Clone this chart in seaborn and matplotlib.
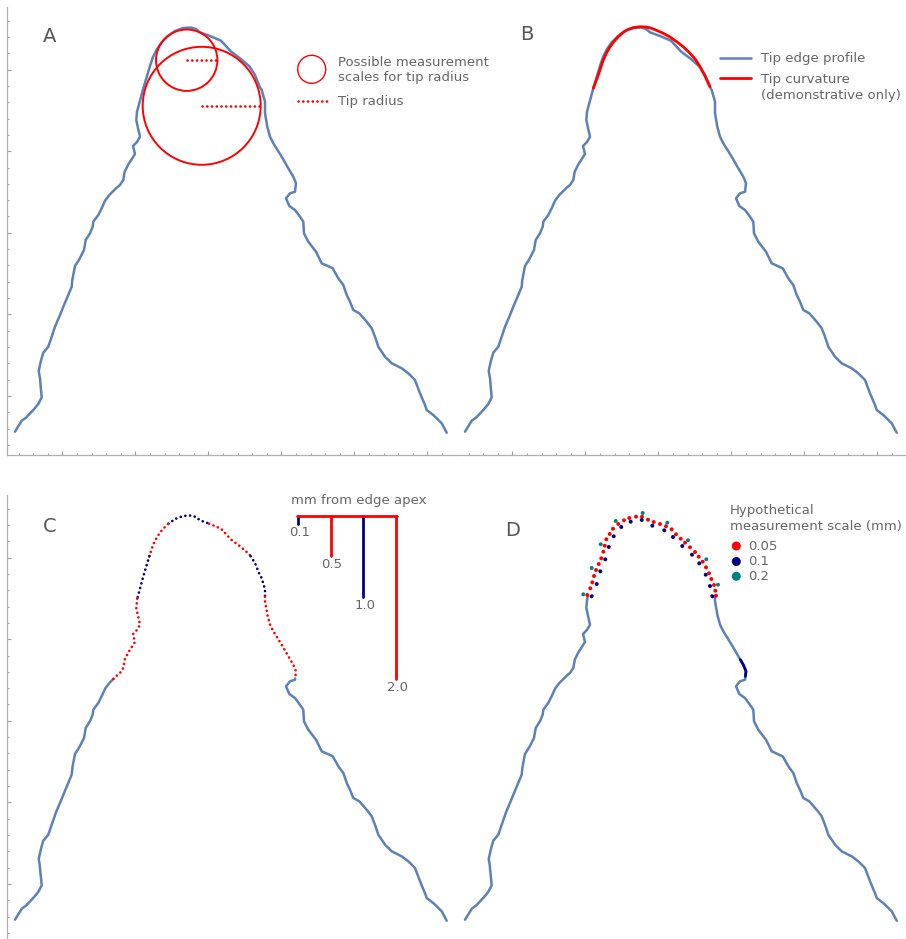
import numpy as np
import matplotlib
matplotlib.use("Agg")
import matplotlib.pyplot as plt
from matplotlib.patches import Circle
from matplotlib.ticker import FixedLocator
import seaborn as sns

# ---------------- data (image units; 81.6 units = 1 mm) ----------------
PX_PER_MM = 81.6

profile_x = [8, 14.7, 19, 26.3, 31.3, 34.7, 33.7, 33, 31.7, 33.7, 36.3, 41.3, 44.7, 48, 52.3, 57, 61.3, 64.7,
             65.3, 68, 72.3, 77, 78.7, 83, 85.7, 86.3, 91.3, 94.7, 98, 102.3, 109, 113, 116.3, 117.7, 121, 128,
             126, 130, 133, 131, 129.3, 130, 132.7, 136.3, 140, 143, 146, 150, 155, 161, 168, 176, 184, 189, 193,
             203, 214, 218, 224, 234, 242.5, 248, 252.7, 254.7, 258, 258, 260.3, 263, 266.3, 274.7, 281.3, 286.3,
             289, 288, 283, 279, 282.3, 288, 293, 296.3, 297, 301.3, 309, 314.7, 325.7, 331.3, 336.3, 339.7, 343,
             346.3, 352.3, 359.7, 364.7, 368, 371.3, 378, 384.7, 394.7, 401.3, 408, 413, 418, 419.7, 426.3, 434.7,
             439.7]
profile_y = [23.3, 34.3, 37.3, 45, 51, 57.7, 68.3, 76.7, 84, 93.3, 102.3, 108.3, 118.3, 128.3, 138.3, 150, 160,
             168.3, 175, 189, 195.7, 205, 215, 221.7, 228.3, 233.3, 240, 246.7, 254.3, 260, 266.7, 270, 275, 283.3,
             290, 301, 309, 313, 318.3, 327, 335, 343.3, 353.3, 366.7, 379, 389, 398, 406, 413, 419, 424, 427,
             427.5, 426, 422.7, 419, 414.3, 410, 403.5, 396, 388.5, 380, 368.3, 365, 353.3, 341.7, 328.3, 318.3,
             311.7, 298.3, 286.7, 278.3, 271.7, 263.3, 261.7, 256.7, 249, 245, 238.3, 233.3, 221.7, 213.3, 203.3,
             191.7, 186.7, 176.7, 170, 160, 153.3, 145, 141.7, 133.3, 126.7, 118.3, 108.3, 98.3, 91.7, 86.7, 81.7,
             75, 61.7, 50, 45, 40, 31.7, 22.3]

curve_x = [136.3, 138.8, 141.3, 143.7, 146.3, 149.5, 153, 157, 161.3, 165.5, 169.7, 176, 183, 189, 194.7, 200,
           206.3, 213, 219.7, 226.5, 233, 238.5, 243, 248, 253]
curve_y = [366.7, 373.5, 380, 387.5, 395, 402, 408.3, 413.5, 418.3, 422, 425, 427.3, 428.3, 428, 426.7, 424.5,
           421.7, 418, 413.3, 408, 401.7, 395.5, 388.3, 379, 368.3]

circle_cx = [179.7, 194.7]
circle_cy = [394.8, 349.2]
circle_r = [30.7, 59.0]

scale_mm = [0.1, 0.5, 1.0, 2.0]
scale_labels = ["0.1", "0.5", "1.0", "2.0"]
band_limits_mm = [0.0, 0.1, 0.5, 1.0, 2.0]
navy_window_mm = [1.77, 1.97]

d005_x = [130.3, 133.3, 135.3, 137, 139, 141.7, 144.3, 146.3, 147.7, 149.3, 152.7, 156, 161.3, 167, 172.3, 179,
          185, 191, 196.7, 203, 209, 214.7, 219, 223.7, 228, 233, 238, 241.7, 245.7, 249, 252, 254.3, 257,
          258.3, 259]
d005_y = [348, 354.7, 360.7, 367, 373, 379, 384.7, 391.3, 397.3, 403.7, 409, 414.3, 419, 422.7, 425, 426.3,
          426.3, 423.3, 421, 419, 416.7, 413.7, 408.7, 404.3, 400.3, 395.7, 391, 386.3, 381.3, 375.7, 369.7, 364,
          358, 352.3, 347.3]
d01_x = [134.7, 139.7, 143.3, 148.3, 151.7, 156.7, 164.3, 173.7, 184.7, 195.3, 207.3, 216, 225.3, 235, 242.3,
         248.7, 253, 255.3]
d01_y = [346.7, 359, 371.7, 383.7, 396, 406.7, 416, 421.3, 423, 417.3, 412.7, 406, 397, 388.3, 379.7, 368.3,
         357, 346.7]
d02_x = [126.3, 134.7, 143.7, 158.7, 185.7, 210.3, 231, 249.3, 261]
d02_y = [348.7, 375, 398.7, 422, 430, 420.3, 402.7, 383.7, 358.3]
d_labels = ["0.05", "0.1", "0.2"]

# ---------------- style ----------------
BLUE = "#5E81B5"
RED = "#FF0000"
NAVY = "#000080"
TEAL = "#008080"
TXT = "#666666"
LET = "#555555"
FS = 9.5

sns.set_style("white")
plt.rcParams["font.family"] = ["DejaVu Sans"]

W, H = 906, 939
fig = plt.figure(figsize=(W / 100, H / 100), dpi=100)
fig.patch.set_facecolor("white")


def make_ax(left, top, w, h=448):
    ax = fig.add_axes([left / W, 1 - (top + h) / H, w / W, h / H])
    ax.set_xlim(0, w)
    ax.set_ylim(0, h)
    ax.set_facecolor("none")
    for s in ax.spines.values():
        s.set_visible(False)
    ax.xaxis.set_major_locator(FixedLocator(55.3 + 73 * np.arange(0, 6)))
    ax.xaxis.set_minor_locator(FixedLocator(55.3 + 14.6 * np.arange(-3, 27)))
    ax.yaxis.set_major_locator(FixedLocator(59 + 81.6 * np.arange(0, 5)))
    ax.yaxis.set_minor_locator(FixedLocator(59 + 16.32 * np.arange(-3, 24)))
    ax.tick_params(which="both", direction="in", color="#a0a0a0", labelleft=False, labelbottom=False,
                   left=False, bottom=False, top=False, right=False)
    ax.tick_params(which="major", length=2.6, width=0.8)
    ax.tick_params(which="minor", length=1.5, width=0.8)
    return ax


def show_spine(ax, side):
    ax.spines[side].set_visible(True)
    ax.spines[side].set_color("#b0b0b0")
    ax.spines[side].set_linewidth(0.9)
    ax.tick_params(which="both", **{side: True})


def line(ax, x, y, color=BLUE, lw=1.8, ls="-", cap="butt"):
    sns.lineplot(x=np.asarray(x), y=np.asarray(y), sort=False, estimator=None, ax=ax, color=color,
                 linewidth=lw, linestyle=ls, legend=False, dash_capstyle=cap)


axA = make_ax(7, 7, 450)
axB = make_ax(457, 7, 449)
axC = make_ax(7, 495, 450)
axD = make_ax(457, 495, 449)
show_spine(axA, "left")
show_spine(axA, "bottom")
show_spine(axB, "bottom")
show_spine(axC, "left")

# dense profile for segmentation by depth below apex
px_arr = np.asarray(profile_x, float)
py_arr = np.asarray(profile_y, float)
n_sub = 20
dx, dy = [px_arr[0]], [py_arr[0]]
for i in range(len(px_arr) - 1):
    t = np.linspace(0, 1, n_sub + 1)[1:]
    dx.extend(px_arr[i] + (px_arr[i + 1] - px_arr[i]) * t)
    dy.extend(py_arr[i] + (py_arr[i + 1] - py_arr[i]) * t)
dx, dy = np.array(dx), np.array(dy)
apex_y = py_arr.max()
apex_x = px_arr[np.argmax(py_arr)]
depth_mm = (apex_y - dy) / PX_PER_MM


def runs(mask):
    idx = np.flatnonzero(mask)
    if len(idx) == 0:
        return []
    br = np.where(np.diff(idx) > 1)[0]
    starts = np.r_[idx[0], idx[br + 1]]
    ends = np.r_[idx[br], idx[-1]]
    out = []
    for s, e in zip(starts, ends):
        s2, e2 = max(s - 1, 0), min(e + 1, len(dx) - 1)
        out.append((s2, e2))
    return out


def draw_mask(ax, mask, color, lw=1.8, ls="-", cap="butt"):
    for s, e in runs(mask):
        line(ax, dx[s:e + 1], dy[s:e + 1], color=color, lw=lw, ls=ls, cap=cap)


DOT = (0, (0.05, 1.75))

# ---------------- Panel A ----------------
line(axA, profile_x, profile_y)
for cx, cy, r in zip(circle_cx, circle_cy, circle_r):
    axA.add_patch(Circle((cx, cy), r, fill=False, edgecolor=RED, linewidth=1.4, zorder=3))
    line(axA, [cx, cx + r], [cy, cy], color=RED, lw=1.9, ls=DOT, cap="round")
axA.add_patch(Circle((304.7, 385.7), 14, fill=False, edgecolor=RED, linewidth=1.0, zorder=3))
axA.text(331.3, 385.0, "Possible measurement\nscales for tip radius", color=TXT, fontsize=FS,
         va="center", ha="left", linespacing=1.3)
line(axA, [290.7, 321.3], [354, 354], color=RED, lw=1.9, ls=DOT, cap="round")
axA.text(331.3, 353.5, "Tip radius", color=TXT, fontsize=FS, va="center", ha="left")
axA.text(43, 418.3, "A", color=LET, fontsize=14, va="center", ha="center")

# ---------------- Panel B ----------------
line(axB, profile_x, profile_y)
line(axB, curve_x, curve_y, color=RED, lw=2.0)
line(axB, [262.7, 293.7], [397.3, 397.3], color=BLUE, lw=1.8)
axB.text(304.3, 396.5, "Tip edge profile", color=TXT, fontsize=FS, va="center", ha="left")
line(axB, [262.7, 293.7], [376.7, 376.7], color=RED, lw=2.0)
axB.text(304.3, 367.0, "Tip curvature\n(demonstrative only)", color=TXT, fontsize=FS, va="center",
         ha="left", linespacing=1.3)
axB.text(70, 420.7, "B", color=LET, fontsize=14, va="center", ha="center")

# ---------------- Panel C ----------------
band_colors = [NAVY, RED, NAVY, RED]
draw_mask(axC, depth_mm >= band_limits_mm[-1], BLUE)
for lo, hi, col in zip(band_limits_mm[:-1], band_limits_mm[1:], band_colors):
    draw_mask(axC, (depth_mm >= lo) & (depth_mm <= hi), col, lw=1.9, ls=DOT, cap="round")

bar_x0 = 290.7
bar_step = 32.8
bar_xs = [bar_x0 + i * bar_step for i in range(len(scale_mm))]
for i, (mm, lab, col) in enumerate(zip(scale_mm, scale_labels, band_colors)):
    bx = bar_xs[i]
    line(axC, [bx, bx], [apex_y, apex_y - mm * PX_PER_MM], color=col, lw=2.0)
    axC.text(bx + 1.5, apex_y - mm * PX_PER_MM - 8.5, lab, color=TXT, fontsize=FS, va="center", ha="center")
line(axC, [bar_xs[0] - 0.7, bar_xs[-1] + 0.7], [apex_y, apex_y], color=RED, lw=2.0)
axC.text(351.3, 442.3, "mm from edge apex", color=TXT, fontsize=FS, va="center", ha="center")
axC.text(43, 417, "C", color=LET, fontsize=14, va="center", ha="center")

# ---------------- Panel D ----------------
draw_mask(axD, depth_mm >= 1.0, BLUE)
draw_mask(axD, (depth_mm >= navy_window_mm[0]) & (depth_mm <= navy_window_mm[1]) & (dx > apex_x), NAVY, lw=2.0)
for xs, ys, col in [(d005_x, d005_y, RED), (d01_x, d01_y, NAVY), (d02_x, d02_y, TEAL)]:
    sns.scatterplot(x=np.asarray(xs), y=np.asarray(ys), color=col, s=8, edgecolor="none", ax=axD,
                    legend=False, zorder=4)
axD.text(272.7, 424.7, "Hypothetical\nmeasurement scale (mm)", color=TXT, fontsize=FS, va="center",
         ha="left", linespacing=1.3)
for yy, col, lab in zip([397, 381.5, 366.7], [RED, NAVY, TEAL], d_labels):
    axD.scatter([279.3], [yy], s=42, color=col, edgecolor="none", zorder=4)
    axD.text(291, yy, lab, color=TXT, fontsize=FS, va="center", ha="left")
axD.text(56, 412.3, "D", color=LET, fontsize=14, va="center", ha="center")

fig.savefig("out.png", dpi=100, facecolor="white")
